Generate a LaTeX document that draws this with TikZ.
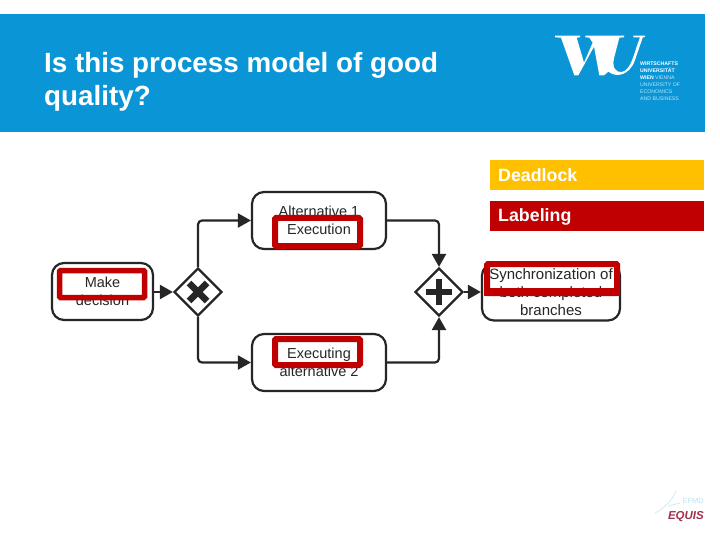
\documentclass[tikz,border=0pt]{standalone}
\usepackage{fontspec}
\setmainfont{Liberation Sans}
\usetikzlibrary{arrows.meta,shapes.geometric}
\definecolor{wublue}{HTML}{0A96D6}
\definecolor{ink}{HTML}{262626}
\definecolor{flagred}{HTML}{C00000}
\definecolor{flagamber}{HTML}{FFC000}
\definecolor{equisred}{HTML}{A03050}
\definecolor{palelogo}{HTML}{BDE3F5}
\tikzset{
  taskbox/.style={draw=ink,line width=2.2pt,rounded corners=12pt,fill=white,minimum height=57pt,inner sep=0pt,align=center,text=ink,font=\fontsize{14.5}{18}\selectfont},
  gatebox/.style={shape=diamond,draw=ink,line width=2.2pt,fill=white,minimum width=48pt,minimum height=48pt,inner sep=0pt},
  flow/.style={draw=ink,line width=2.2pt,rounded corners=4pt,-{Triangle[length=13pt,width=14pt]}},
  redframe/.style={draw=flagred,line width=6pt,rounded corners=1pt},
  issuebar/.style={minimum width=214pt,minimum height=30pt,inner sep=0pt,anchor=north west},
  issuetext/.style={text=white,inner sep=0pt,anchor=base west,font=\fontsize{17.8}{20}\selectfont\bfseries},
  logotext/.style={inner sep=0pt,anchor=base west,font=\fontsize{5.2}{7}\selectfont},
}
\begin{document}
\begin{tikzpicture}[x=1pt,y=-1pt]
\useasboundingbox (0,0) rectangle (720,540);
\fill[white] (0,0) rectangle (720,540);
% header
\fill[wublue] (0,14) rectangle (705,132);
\node[inner sep=0pt,anchor=north west,align=left,text=white,font=\fontsize{27.8}{33.5}\selectfont\bfseries] (title) at (44,52) {Is this process model of good\\quality?};
% WU logo
\begin{scope}[shift={(480,0)},scale=1/3]
\fill[white] (225,107) -- (300,107) -- (300,112) -- (290,113) -- (312,188) -- (338,128) -- (328,113) -- (316,112) -- (316,107) -- (432,107) -- (432,112) -- (418,113) -- (402,175) .. controls (395,205) and (410,218) .. (425,216) .. controls (450,212) and (460,170) .. (470,140) -- (480,112) -- (460,112) -- (460,107) -- (495,107) -- (495,110) -- (488,113) -- (465,180) .. controls (450,225) and (410,235) .. (385,215) -- (372,226) -- (358,226) -- (342,140) -- (295,226) -- (283,226) -- (243,113) -- (225,112) -- cycle;
\end{scope}
\node[logotext,text=white] (wu1) at (640,65.2) {\bfseries WIRTSCHAFTS};
\node[logotext,text=white] (wu2) at (640,72.2) {\bfseries UNIVERSITÄT};
\node[logotext,text=white] (wu3) at (640,79.4) {\bfseries WIEN \mdseries\textcolor{palelogo}{VIENNA}};
\node[logotext,text=palelogo] (wu4) at (640,86.4) {UNIVERSITY OF};
\node[logotext,text=palelogo] (wu5) at (640,93.7) {ECONOMICS};
\node[logotext,text=palelogo] (wu6) at (640,101) {AND BUSINESS};
% issue bars
\node[issuebar,fill=flagamber] (deadbar) at (490,160) {};
\node[issuebar,fill=flagred] (labelbar) at (490,201) {};
\node[issuetext] (deadtext) at (498,181.5) {Deadlock};
\node[issuetext] (labeltext) at (498,222) {Labeling};
% process
\node[taskbox,minimum width=101pt] (make) at (102.5,291.5) {Make\\decision};
\node[taskbox,minimum width=134pt] (alta) at (319,220.5) {Alternative 1\\Execution};
\node[taskbox,minimum width=134pt] (altb) at (319,362.5) {Executing\\alternative 2};
\node[taskbox,minimum width=138pt,font=\fontsize{15}{18}\selectfont] (sync) at (551,292) {Synchronization of\\both completed\\branches};
\node[gatebox] (xgate) at (198,292) {};
\node[gatebox] (pgate) at (439,292) {};
\draw[ink,line width=6.5pt] ([shift={(-9,-9)}]xgate.center) -- ([shift={(9,9)}]xgate.center);
\draw[ink,line width=6.5pt] ([shift={(-9,9)}]xgate.center) -- ([shift={(9,-9)}]xgate.center);
\draw[ink,line width=5.5pt] ([shift={(-13,0)}]pgate.center) -- ([shift={(13,0)}]pgate.center);
\draw[ink,line width=5.5pt] ([shift={(0,-13)}]pgate.center) -- ([shift={(0,13)}]pgate.center);
\draw[flow] (make.east |- xgate.west) -- (xgate.west);
\draw[flow] (xgate.north) |- (alta.west);
\draw[flow] (xgate.south) |- (altb.west);
\draw[flow] (alta.east) -| (pgate.north);
\draw[flow] (altb.east) -| (pgate.south);
\draw[flow] (pgate.east) -- (pgate.east -| sync.west);
% red highlight frames
\draw[redframe,line width=5.5pt] (59.5,270.5) rectangle (144.5,297.5);
\draw[redframe] (275,218) rectangle (360,246);
\draw[redframe] (275,339) rectangle (360,365);
\draw[redframe] (487,264) rectangle (617,293);
\fill[flagred] (484,287.5) rectangle (620,296);
% EQUIS logo
\draw[palelogo!60,line width=1pt] (655,513) .. controls (665,508) and (672,500) .. (676,491);
\draw[palelogo!60,line width=1pt] (668,506) -- (680,503);
\node[inner sep=0pt,anchor=base east,text=palelogo,font=\fontsize{7.5}{8}\selectfont] (efmd) at (704,503) {EFMD};
\node[inner sep=0pt,anchor=base east,text=equisred,font=\fontsize{11.5}{14}\selectfont\bfseries\itshape] (equis) at (704,519) {EQUIS};
\end{tikzpicture}
\end{document}
